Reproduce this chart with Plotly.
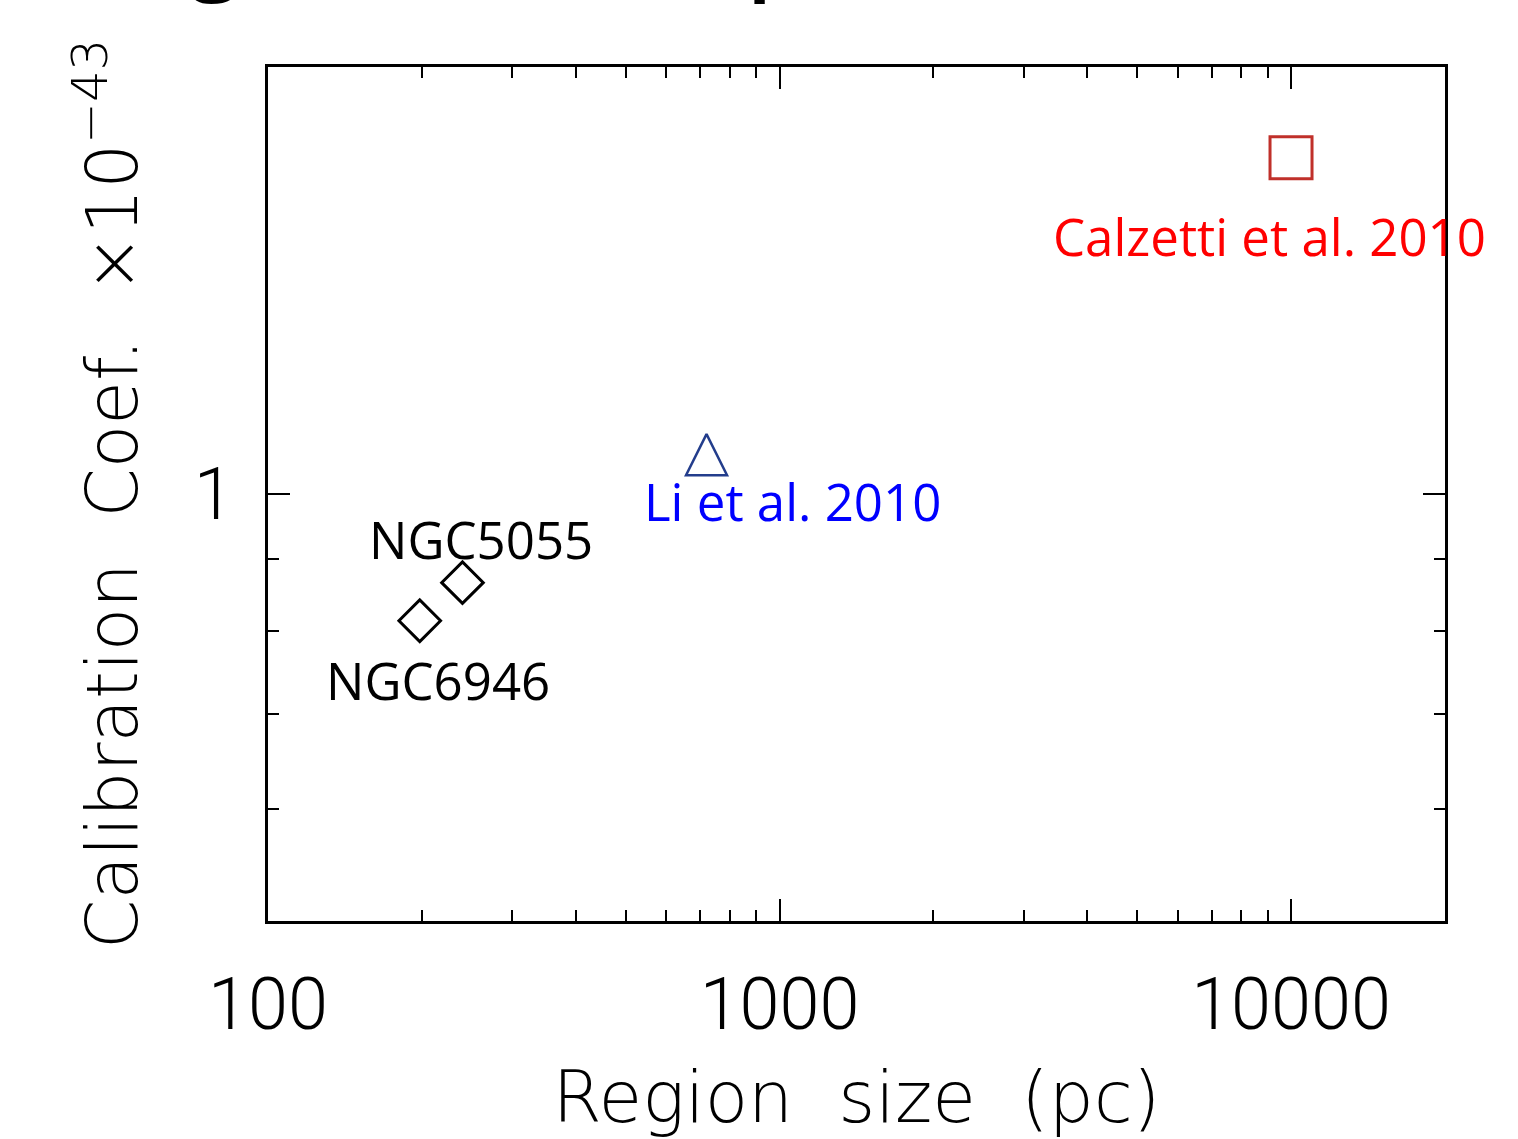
import math
import plotly.graph_objects as go

# ---- data ----
ngc_names = ["NGC6946", "NGC5055"]
ngc_size_pc = [198, 240]
ngc_coef = [0.814, 0.866]

li_name = "Li et al. 2010"
li_size_pc = [720]
li_coef = [1.066]

calz_name = "Calzetti et al. 2010"
calz_size_pc = [10000]
calz_coef = [1.726]

x_tickvals = [100, 1000, 10000]
x_ticktext = ["100", "1000", "10000"]
x_minor = [200, 300, 400, 500, 600, 700, 800, 900,
           2000, 3000, 4000, 5000, 6000, 7000, 8000, 9000]
y_tickvals = [1]
y_ticktext = ["1"]
y_minor = [0.6, 0.7, 0.8, 0.9]
x_limits = [100, 20000]
y_limits = [0.5, 2.0]

TICKFONT = dict(family="Roboto", size=72, color="black", weight=300)
TITLEFONT = dict(family="DejaVu Sans", size=71, color="black", weight=200)
LABELFONT = "Open Sans"

fig = go.Figure()

fig.add_trace(go.Scatter(
    x=ngc_size_pc, y=ngc_coef, mode="markers", name="NGC",
    marker=dict(symbol="diamond-open", size=32, color="black",
                line=dict(width=3, color="black")),
))
tri_size = 41
fig.add_trace(go.Scatter(
    x=li_size_pc, y=li_coef, mode="markers", name=li_name,
    marker=dict(symbol="arrow-down-open", size=tri_size, angle=180,
                standoff=tri_size / 2, color="#233d8c",
                line=dict(width=2.5, color="#233d8c")),
))
fig.add_trace(go.Scatter(
    x=calz_size_pc, y=calz_coef, mode="markers", name=calz_name,
    marker=dict(symbol="square-open", size=42, color="#c0302a",
                line=dict(width=3, color="#c0302a")),
))

# labels tied to the data points
labels = [
    (calz_size_pc[0], calz_coef[0], calz_name, "#ff0000", -22, -78.5),
    (li_size_pc[0], li_coef[0], li_name, "#0000ff", 85.5, -46.5),
    (ngc_size_pc[1], ngc_coef[1], ngc_names[1], "black", 19, 43.5),
    (ngc_size_pc[0], ngc_coef[0], ngc_names[0], "black", 18.5, -59.5),
]
for xv, yv, txt, col, dx, dy in labels:
    fig.add_annotation(
        x=math.log10(xv), y=math.log10(yv), xref="x", yref="y",
        text=txt, showarrow=False, xanchor="center", yanchor="middle",
        xshift=dx, yshift=dy,
        font=dict(family=LABELFONT, size=51, color=col),
    )

# fragments of the slide title cut off at the top edge
for frag, px in [("g", 215), ("p", 775)]:
    fig.add_annotation(
        x=(px - 268) / 1177, y=1 + (67 - 10) / 854, xref="paper", yref="paper",
        text=frag, showarrow=False, xanchor="center", yanchor="bottom",
        font=dict(family="Open Sans", size=90, color="black", weight=600),
    )

axis_common = dict(
    showline=True, linecolor="black", linewidth=3, mirror="allticks",
    ticks="inside", ticklen=22, tickwidth=2, tickcolor="black",
    showgrid=False, zeroline=False, tickfont=TICKFONT,
)

fig.update_xaxes(
    type="log", range=[math.log10(x_limits[0]), math.log10(x_limits[1])],
    tickmode="array", tickvals=x_tickvals, ticktext=x_ticktext,
    minor=dict(tickmode="array", tickvals=x_minor, ticks="inside",
               ticklen=11, tickwidth=2, tickcolor="black", showgrid=False),
    ticklabelstandoff=19,
    title=dict(text="Region  size  (pc)", font=TITLEFONT, standoff=46),
    **axis_common,
)
fig.update_yaxes(
    type="log", range=[math.log10(y_limits[0]), math.log10(y_limits[1])],
    tickmode="array", tickvals=y_tickvals, ticktext=y_ticktext,
    minor=dict(tickmode="array", tickvals=y_minor, ticks="inside",
               ticklen=11, tickwidth=2, tickcolor="black", showgrid=False),
    ticklabelstandoff=17,
    title=dict(text="Calibration  Coef.  ×10<sup>−43</sup>", font=TITLEFONT, standoff=33),
    **axis_common,
)

fig.update_layout(
    width=1518, height=1139,
    margin=dict(l=268, r=73, t=67, b=218, autoexpand=False),
    paper_bgcolor="white", plot_bgcolor="white",
    showlegend=False,
)

fig.write_html("out.html")
